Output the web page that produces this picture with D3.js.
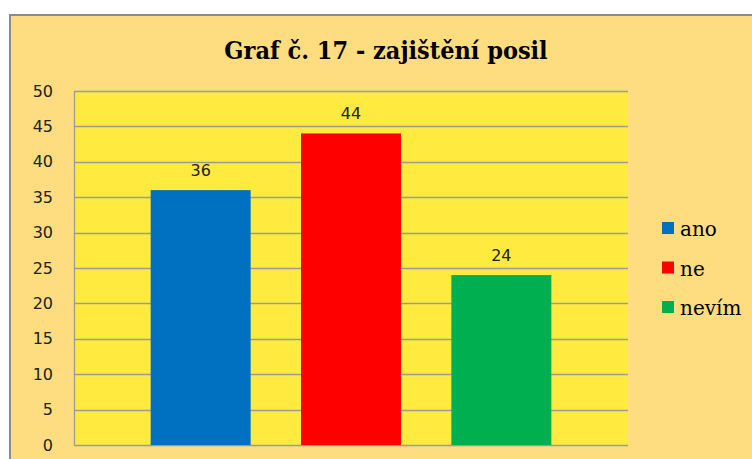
<!DOCTYPE html>
<html>
<head>
<meta charset="utf-8">
<script src="https://cdn.jsdelivr.net/npm/d3@7"></script>
<style>
  body { margin: 0; background: #fff; }
  svg { display: block; }
  .sans { font-family: "DejaVu Sans", Verdana, sans-serif; }
  .serif { font-family: "DejaVu Serif", "Liberation Serif", "Times New Roman", serif; }
</style>
</head>
<body>
<script>
// data
var series = ["ano", "ne", "nevím"];
var values = [36, 44, 24];
var colors = ["#0070C0", "#FF0000", "#00B050"];
var yTicks = [0, 5, 10, 15, 20, 25, 30, 35, 40, 45, 50];
var title = "Graf č. 17 - zajištění posil";

var width = 752,
    height = 459;

var plot = {left: 74, top: 91, right: 628, bottom: 445};

var svg = d3.select("body")
    .append("svg")
    .attr("width", width)
    .attr("height", height);

// chart area background + border
svg.append("rect")
    .attr("x", 10)
    .attr("y", 15)
    .attr("width", 760)
    .attr("height", 460)
    .attr("fill", "#FEDD80")
    .attr("stroke", "#8c8c8c")
    .attr("stroke-width", 2);

// plot area
svg.append("rect")
    .attr("x", plot.left)
    .attr("y", plot.top)
    .attr("width", plot.right - plot.left)
    .attr("height", plot.bottom - plot.top)
    .attr("fill", "#FFEB3F");

var y = d3.scaleLinear()
    .domain([0, 50])
    .range([plot.bottom, plot.top]);

var x = d3.scaleBand()
    .domain(series)
    .range([plot.left, plot.right])
    .paddingInner(0.335)
    .paddingOuter(0.51);

// gridlines
svg.append("g")
    .selectAll("line")
    .data(yTicks)
    .enter()
    .append("line")
    .attr("x1", plot.left)
    .attr("x2", plot.right)
    .attr("y1", function (d) { return Math.round(y(d)) + 0.5; })
    .attr("y2", function (d) { return Math.round(y(d)) + 0.5; })
    .attr("stroke", "#9a9a9a")
    .attr("stroke-width", 1.3);

// y axis
var yAxis = d3.axisLeft(y)
    .tickValues(yTicks)
    .tickSize(0)
    .tickPadding(21);

var gy = svg.append("g")
    .attr("transform", "translate(" + plot.left + ",0)")
    .call(yAxis)
    .attr("font-family", null)
    .attr("font-size", null);
gy.select(".domain")
    .attr("stroke", "#9a9a9a")
    .attr("stroke-width", 1.3);
gy.selectAll("text")
    .attr("class", "sans")
    .style("font-size", "16px")
    .attr("fill", "#222");

// bars
svg.append("g")
    .selectAll("rect")
    .data(values)
    .enter()
    .append("rect")
    .attr("x", function (d, i) { return x(series[i]); })
    .attr("width", x.bandwidth())
    .attr("y", function (d) { return y(d); })
    .attr("height", function (d) { return y(0) - y(d); })
    .attr("fill", function (d, i) { return colors[i]; });

// value labels
svg.append("g")
    .selectAll("text")
    .data(values)
    .enter()
    .append("text")
    .attr("class", "sans")
    .attr("x", function (d, i) { return x(series[i]) + x.bandwidth() / 2; })
    .attr("y", function (d) { return y(d) - 14; })
    .attr("text-anchor", "middle")
    .style("font-size", "16px")
    .attr("fill", "#222")
    .text(function (d) { return d; });

// title
svg.append("text")
    .attr("class", "serif")
    .attr("x", 386)
    .attr("y", 59)
    .attr("text-anchor", "middle")
    .style("font-weight", "bold")
    .style("font-stretch", "condensed")
    .style("font-size", "25px")
    .attr("fill", "#000")
    .text(title);

// legend
var legend = svg.append("g")
    .selectAll("g")
    .data(series)
    .enter()
    .append("g")
    .attr("transform", function (d, i) { return "translate(662," + (229 + i * 39.5) + ")"; });

legend.append("rect")
    .attr("x", 0)
    .attr("y", -7)
    .attr("width", 12)
    .attr("height", 12)
    .attr("fill", function (d, i) { return colors[i]; });

legend.append("text")
    .attr("class", "serif")
    .attr("x", 18)
    .attr("y", 7)
    .style("font-size", "20px")
    .attr("fill", "#000")
    .text(function (d) { return d; });
</script>
</body>
</html>
